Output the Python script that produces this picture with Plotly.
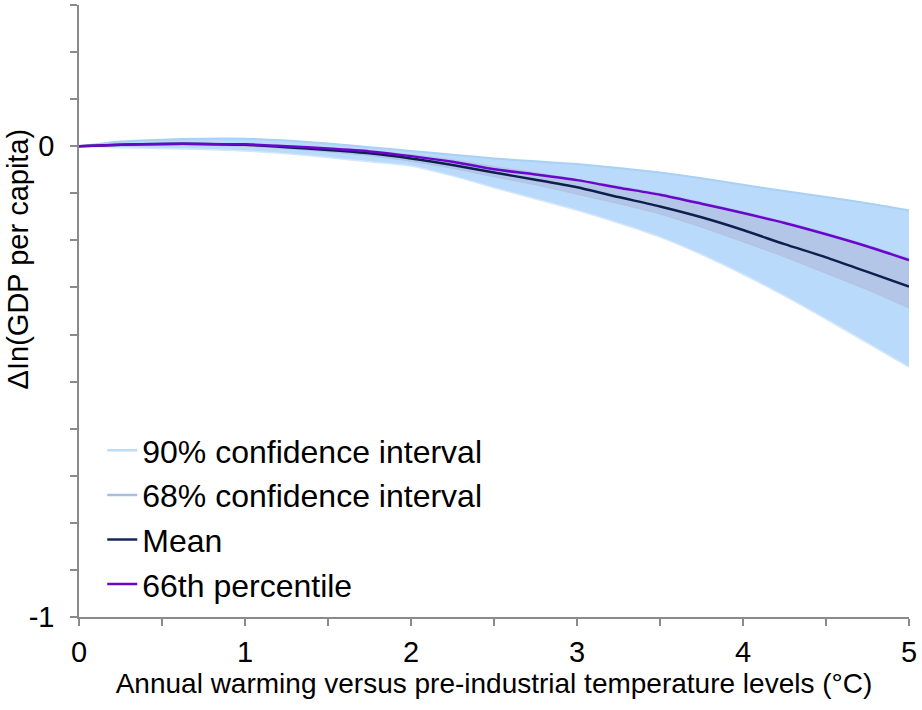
import numpy as np
import plotly.graph_objects as go

# Warming levels (°C above pre-industrial)
warming = [0, 0.25, 0.5, 0.75, 1, 1.25, 1.5, 1.75, 2, 2.25, 2.5,
           2.75, 3, 3.25, 3.5, 3.75, 4, 4.25, 4.5, 4.75, 5]

# Change in log GDP per capita
mean_impact = [0, 0.003, 0.005, 0.005, 0.003, -0.002, -0.008, -0.015, -0.026, -0.040, -0.056,
               -0.071, -0.087, -0.108, -0.128, -0.151, -0.178, -0.208, -0.236, -0.267, -0.298]
p66_impact = [0, 0.003, 0.005, 0.005, 0.004, 0.0, -0.005, -0.011, -0.021, -0.033, -0.049,
              -0.060, -0.072, -0.088, -0.103, -0.122, -0.142, -0.163, -0.187, -0.213, -0.242]
ci90_upper = [0, 0.010, 0.014, 0.016, 0.016, 0.012, 0.006, -0.002, -0.010, -0.018, -0.026,
              -0.032, -0.038, -0.046, -0.056, -0.068, -0.082, -0.095, -0.108, -0.121, -0.136]
ci90_lower = [0, -0.003, -0.005, -0.007, -0.010, -0.016, -0.024, -0.033, -0.042, -0.063, -0.088,
              -0.112, -0.136, -0.163, -0.193, -0.230, -0.272, -0.318, -0.367, -0.418, -0.469]
ci68_upper = [0, 0.004, 0.006, 0.006, 0.005, 0.001, -0.004, -0.010, -0.018, -0.029, -0.043,
              -0.056, -0.070, -0.085, -0.100, -0.119, -0.139, -0.160, -0.184, -0.210, -0.238]
ci68_lower = [0, 0.001, 0.002, 0.002, 0.0, -0.005, -0.012, -0.020, -0.032, -0.047, -0.065,
              -0.082, -0.102, -0.122, -0.144, -0.172, -0.203, -0.235, -0.270, -0.305, -0.344]

series_names = ["90% confidence interval", "68% confidence interval", "Mean", "66th percentile"]
legend_colors = ["#BFDCF7", "#A9BEE2", "#14285A", "#6A06CC"]

y_tick_vals = [round(v, 1) for v in np.arange(-1.0, 0.31, 0.1)]
y_tick_text = ["0" if abs(v) < 1e-9 else ("-1" if abs(v + 1) < 1e-9 else "") for v in y_tick_vals]
x_tick_vals = [round(v, 1) for v in np.arange(0, 5.01, 0.5)]
x_tick_text = [str(int(v)) if float(v).is_integer() else "" for v in x_tick_vals]

FONT = "Liberation Sans, Arial, sans-serif"
SMOOTH = dict(shape="spline", smoothing=0.6)

fig = go.Figure()

# 90% band
fig.add_trace(go.Scatter(x=warming, y=ci90_lower, mode="lines",
                         line=dict(color="#D3E7FA", width=1.5, **SMOOTH),
                         showlegend=False, hoverinfo="skip"))
fig.add_trace(go.Scatter(x=warming, y=ci90_upper, mode="lines", fill="tonexty",
                         fillcolor="#B9DAFA", line=dict(color="#A9D0F5", width=2, **SMOOTH),
                         showlegend=False, hoverinfo="skip"))
# 68% band
fig.add_trace(go.Scatter(x=warming, y=ci68_lower, mode="lines",
                         line=dict(color="#B0C3E4", width=1, **SMOOTH),
                         showlegend=False, hoverinfo="skip"))
fig.add_trace(go.Scatter(x=warming, y=ci68_upper, mode="lines", fill="tonexty",
                         fillcolor="#B4C6E7", line=dict(color="#B4C6E7", width=1, **SMOOTH),
                         showlegend=False, hoverinfo="skip"))
# Central estimates
fig.add_trace(go.Scatter(x=warming, y=mean_impact, mode="lines",
                         line=dict(color="#0E1F4E", width=2.5, **SMOOTH),
                         showlegend=False))
fig.add_trace(go.Scatter(x=warming, y=p66_impact, mode="lines",
                         line=dict(color="#6A06CC", width=2.5, **SMOOTH),
                         showlegend=False))

# Legend entries drawn as plain line keys
for name, color in zip(series_names, legend_colors):
    fig.add_trace(go.Scatter(x=[None], y=[None], mode="lines", name=name,
                             line=dict(color=color, width=2.5)))

fig.add_annotation(text="ΔIn(GDP per capita)", textangle=-90,
                   xref="paper", yref="paper", x=-0.073, y=0.585,
                   xanchor="center", yanchor="middle", showarrow=False,
                   font=dict(size=29, family=FONT, color="black"))

fig.update_layout(
    width=922, height=710,
    margin=dict(l=79, r=9, t=5, b=93),
    paper_bgcolor="white", plot_bgcolor="white",
    font=dict(family=FONT, color="black"),
    showlegend=True,
    legend=dict(x=0.028, y=0.317, xanchor="left", yanchor="top", traceorder="normal",
                bgcolor="rgba(0,0,0,0)", font=dict(size=32, family=FONT),
                tracegroupgap=0, itemwidth=30),
    xaxis=dict(range=[0, 5], tickvals=x_tick_vals, ticktext=x_tick_text,
               ticks="outside", ticklen=7, tickwidth=1.5, tickcolor="#8A8A8A",
               showline=True, linecolor="#8A8A8A", linewidth=1.5,
               showgrid=False, zeroline=False,
               tickfont=dict(size=29), ticklabelstandoff=1,
               title=dict(text="Annual warming versus pre-industrial temperature levels (°C)",
                          font=dict(size=28), standoff=4)),
    yaxis=dict(range=[-1, 0.3], tickvals=y_tick_vals, ticktext=y_tick_text,
               ticks="outside", ticklen=7, tickwidth=1.5, tickcolor="#8A8A8A",
               showline=True, linecolor="#8A8A8A", linewidth=1.5,
               showgrid=False, zeroline=False,
               tickfont=dict(size=29), ticklabelstandoff=10),
)

fig.write_html("out.html")
